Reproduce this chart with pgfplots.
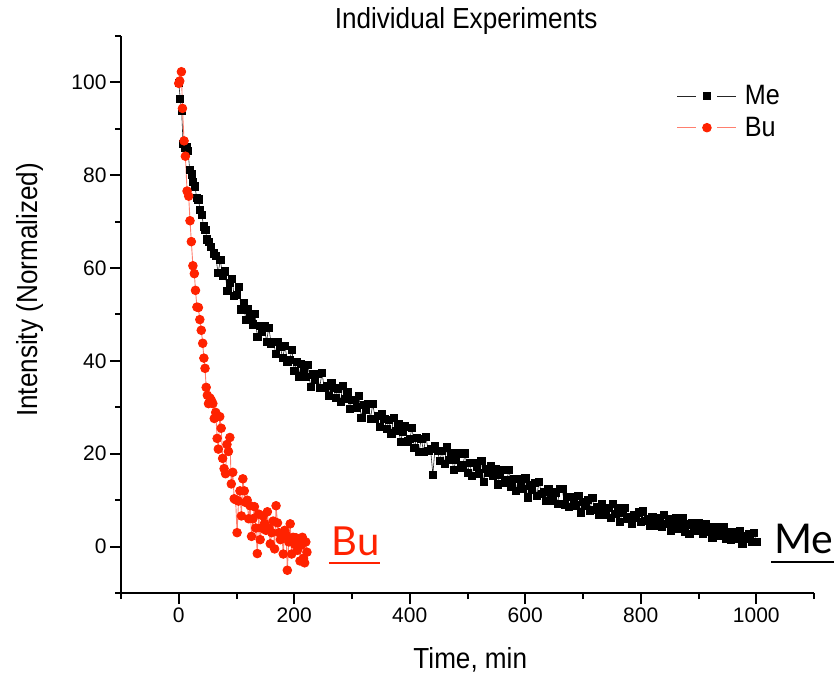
\documentclass[border=0pt]{standalone}
\usepackage{fontspec}
\setmainfont{Liberation Sans}
\newfontfamily\labfont[FakeStretch=0.9]{Liberation Sans}
\newfontfamily\gillfont{Lato}
\usepackage{pgfplots}
\pgfplotsset{compat=1.18}
\definecolor{bured}{HTML}{FF2200}
\definecolor{buline}{HTML}{FF7F6E}
\begin{document}
\begin{tikzpicture}
\begin{axis}[
 scale only axis, width=693pt, height=557pt,
 xmin=-100, xmax=1100, ymin=-10, ymax=110,
 axis x line=bottom, axis y line=left,
 axis line style={-, line width=2.5pt},
 every outer x axis line/.append style={-},
 every outer y axis line/.append style={-},
 every inner x axis line/.append style={-},
 every inner y axis line/.append style={-},
 xtick={0,200,...,1000}, ytick={0,20,...,100},
 minor xtick={-100,100,300,500,700,900,1100},
 minor ytick={-10,10,30,50,70,90,110},
 tick align=outside,
 major tick length=11pt, minor tick length=6pt,
 every tick/.style={black, line width=2pt},
 tick label style={font=\fontsize{21}{21}\selectfont},
 /pgf/number format/assume math mode=true,
 /pgf/number format/1000 sep={},
 clip=false,
 title={Individual Experiments},
 title style={font=\labfont\fontsize{29}{29}\selectfont, at={(axis description cs:0.498,1.002)}, anchor=base},
 xlabel={Time, min},
 xlabel style={font=\labfont\fontsize{29}{29}\selectfont, at={(axis description cs:0.504,-0.1364)}, anchor=base},
 ylabel={Intensity (Normalized)},
 ylabel style={font=\labfont\fontsize{29}{29}\selectfont, at={(axis description cs:-0.1212,0.544)}, anchor=base},
 legend style={at={(rel axis cs:0.802,0.915)}, anchor=north west, draw=none, fill=none,
   font=\labfont\fontsize{28}{28}\selectfont, row sep=7pt, inner sep=0pt},
 legend cell align=left,
 legend image code/.code={
   \draw[#1, mark=none] (0pt,0pt) -- (19pt,0pt);
   \draw[#1, mark=none] (40pt,0pt) -- (59pt,0pt);
   \draw[#1] plot coordinates {(29.5pt,0pt)};
 },
]
\addplot[black!85, line width=0.6pt, mark=square*, mark size=3.6pt, mark options={black, fill=black}] coordinates {
(0,100.0) (2.5,96.5) (5,93.9) (7.5,86.7) (10,86.0) (13,86.2) (16,85.2) (19,81.2) (22,80.2) (25,78.6)
(28,77.6) (31,75.2) (34,74.8) (37,72.6) (40,71.5) (43,69.0) (46,68.3) (49,66.2) (52,65.7) (56,64.5)
(60,63.2) (64,62.7) (68,58.9) (72,61.7) (76,58.4) (80,59.3) (84,55.1) (88,56.8) (92,57.7) (96,54.1)
(100,54.2) (104,56.0) (108,51.1) (112,52.5) (116,48.9) (120,51.1) (124,49.8) (128,47.9) (132,50.1) (136,45.2)
(140,47.6) (144,46.3) (148,47.5) (152,44.2) (156,47.2) (160,43.8) (164,44.1) (168,41.6) (172,44.2) (176,43.0)
(180,40.6) (184,43.3) (188,39.9) (192,40.2) (196,42.4) (200,37.9) (204,39.8) (208,36.7) (212,39.4) (216,38.3)
(220,36.6) (224,39.1) (228,34.4) (232,37.1) (236,36.0) (240,37.3) (244,34.2) (248,37.4) (252,34.2) (256,34.7)
(260,32.4) (264,35.2) (268,34.2) (272,32.1) (276,34.1) (280,31.2) (284,34.7) (288,31.9) (292,33.4) (296,29.6)
(300,31.7) (304,31.6) (308,30.0) (312,32.4) (316,27.8) (320,30.5) (324,29.4) (328,30.8) (332,27.6) (336,30.8)
(340,27.6) (344,28.1) (348,25.8) (352,28.5) (356,27.5) (360,25.3) (364,27.3) (368,24.4) (372,27.8) (376,25.0)
(380,26.4) (384,22.6) (388,24.7) (392,25.9) (396,22.7) (400,23.2) (404,25.6) (408,21.3) (412,23.4) (416,20.4)
(420,23.2) (424,20.5) (428,23.7) (432,20.6) (436,21.1) (440,15.5) (444,21.6) (448,20.6) (452,18.5) (456,20.6)
(460,17.8) (464,21.4) (468,18.7) (472,20.2) (476,16.5) (480,18.7) (484,20.1) (488,17.0) (492,17.6) (496,20.1)
(500,15.9) (504,18.0) (508,15.2) (512,18.1) (516,17.3) (520,15.8) (524,18.4) (528,14.0) (532,16.8) (536,15.9)
(540,17.4) (544,15.3) (548,16.8) (552,13.4) (556,15.4) (560,16.6) (564,13.8) (568,14.3) (572,16.6) (576,12.8)
(580,14.6) (584,12.0) (588,14.6) (592,13.8) (596,12.4) (600,14.7) (604,10.6) (608,13.2) (612,12.3) (616,13.8)
(620,11.0) (624,14.0) (628,11.3) (632,11.8) (636,9.9) (640,12.5) (644,11.7) (648,9.8) (652,11.7) (656,9.3)
(660,12.5) (664,12.4) (668,9.1) (672,10.8) (676,8.5) (680,10.8) (684,10.1) (688,8.9) (692,11.0) (696,7.4)
(700,9.7) (704,8.9) (708,10.1) (712,7.8) (716,10.5) (720,7.9) (724,8.5) (728,6.8) (732,9.1) (736,8.4)
(740,6.8) (744,8.4) (748,6.2) (752,9.2) (756,7.1) (760,8.3) (764,5.4) (768,7.3) (772,8.3) (776,5.9)
(780,6.5) (784,4.9) (788,6.9) (792,6.3) (796,7.4) (800,5.3) (804,7.6) (808,5.5) (812,6.0) (816,4.5)
(820,6.5) (824,6.0) (828,4.5) (832,6.1) (836,4.2) (840,6.8) (844,4.9) (848,6.0) (852,3.5) (856,5.0)
(860,6.1) (864,3.9) (868,4.4) (872,6.2) (876,3.3) (880,4.8) (884,2.8) (888,5.0) (892,4.4) (896,3.4)
(900,5.2) (904,4.3) (908,2.7) (912,4.9) (916,3.3) (920,4.2) (924,2.0) (928,3.3) (932,4.2) (936,2.3)
(940,2.7) (944,4.2) (948,1.8) (952,3.1) (956,1.4) (960,3.2) (964,2.6) (968,1.8) (972,3.3) (976,0.7)
(980,2.4) (984,1.8) (988,2.8) (992,1.0) (996,3.0) (1000,1.0)
};
\addlegendentry{\hspace{6pt}Me}
\addplot[buline, line width=0.9pt, mark=*, mark size=4.3pt, mark options={draw=bured, fill=bured}] coordinates {
(0,99.8) (1.7,100.3) (4.6,102.3) (6.4,94.4) (9.2,87.4) (11.5,84.1) (14.4,76.6) (17.2,75.5) (19.5,70.2) (21.8,65.7)
(24.5,60.5) (27,58.8) (29,55.2) (31.5,51.6) (34,51.5) (36.5,48.9) (39,46.6) (41.5,43.8) (43.5,40.6) (45.5,38.4)
(47.5,34.3) (49.5,32.6) (51.5,30.8) (54,32.0) (56.5,31.5) (59,30.8) (61.5,27.6) (64,28.9) (66.5,23.3) (68.5,21.0)
(71,28.0) (73.5,25.5) (76,19.0) (78.5,16.8) (81,15.7) (83.5,22.0) (86,20.5) (88.5,23.5) (91,13.5) (93.5,16.0)
(96,10.3) (98.5,10.1) (101,3.0) (103.5,9.8) (106,12.0) (108.5,6.6) (111,14.6) (113.5,12.0) (116,9.5) (118.5,10.0)
(121,6.0) (123.5,8.8) (126,2.2) (128.5,6.0) (131,8.6) (133.5,4.0) (136,-1.5) (138.5,7.0) (141,1.5) (143.5,4.0)
(146,6.6) (148.5,5.0) (151,3.5) (153.5,7.5) (156,4.0) (158.5,0.6) (161,3.0) (163.5,5.5) (166,-0.5) (168.5,8.8)
(171,5.1) (173.5,3.0) (176,1.5) (178.5,2.8) (181,-1.6) (183.5,3.5) (186,2.5) (188,-5.1) (190.5,1.0) (193,4.9)
(195.5,-1.6) (198,2.0) (200.5,0.5) (203,1.9) (205.5,-0.8) (208,1.5) (210,-3.1) (212,0.3) (214,2.0) (216,-2.5)
(218,-3.5) (220,1.0) (222,-1.2)
};
\addlegendentry{\hspace{6pt}Bu}
\node[font=\gillfont\fontsize{40}{40}\selectfont, text=bured, anchor=base west, inner sep=0pt] (bu) at (axis cs:265,-2.0) {Bu};
\draw[bured, line width=2pt] ([xshift=-3pt, yshift=-6.7pt]bu.base west) -- ([yshift=-6.7pt]bu.base east);
\node[font=\gillfont\fontsize{41}{41}\selectfont, text=black, anchor=base west, inner sep=0pt] (me) at (axis cs:1031,-1.4) {Me};
\draw[black, line width=2.2pt] ([xshift=-3pt, yshift=-9pt]me.base west) -- ([yshift=-9pt]me.base east);
\end{axis}
\pgfresetboundingbox
\path[use as bounding box] (-121pt,-81pt) rectangle (716pt,593pt);
\end{tikzpicture}
\end{document}
